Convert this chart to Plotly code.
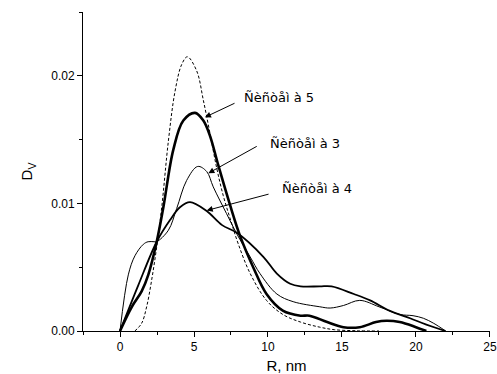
import plotly.graph_objects as go

# Volume size distributions D_V(R)
r_ref = [1.0, 1.46, 1.8, 2.14, 2.48, 2.82, 3.27, 3.72, 4.17, 4.55, 5.18, 5.63,
         6.08, 6.53, 6.98, 7.5, 8.0, 8.8, 9.9, 11.0, 12.2, 13.5, 14.5, 16.0, 17.5]
d_ref = [0.0, 0.0006, 0.0019, 0.0040, 0.0066, 0.0097, 0.0149, 0.0188, 0.0209, 0.0215,
         0.0204, 0.0181, 0.0155, 0.0128, 0.0106, 0.0086, 0.0068, 0.0045, 0.0024,
         0.0013, 0.0007, 0.0003, 0.0001, 0.00002, 0.0]

r_s5 = [0, 0.8, 1.46, 1.91, 2.48, 2.93, 3.6, 4.28, 5.07, 5.63, 6.08, 6.64, 7.43, 8.1,
        9.0, 9.9, 11.0, 12.2, 12.8, 14.0, 15.1, 16.2, 17.3, 18.0, 18.9, 20.0, 20.7]
d_s5 = [0, 0.0019, 0.0031, 0.0044, 0.0070, 0.0097, 0.0142, 0.0165, 0.0171, 0.0165,
        0.0153, 0.0130, 0.0099, 0.0075, 0.0050, 0.0029, 0.0016, 0.0012, 0.0012,
        0.0007, 0.0003, 0.0003, 0.0007, 0.0008, 0.0007, 0.0003, 0.0]

r_s4 = [0, 1.24, 2.48, 3.38, 4.05, 4.73, 5.86, 6.9, 7.9, 9.7, 10.6, 11.5, 12.2,
        13.5, 14.3, 15.8, 16.9, 18.2, 19.6, 20.7, 22.0]
d_s4 = [0, 0.0036, 0.0070, 0.0087, 0.0097, 0.0101, 0.0094, 0.0083, 0.0077, 0.0058,
        0.0045, 0.0037, 0.0035, 0.0035, 0.0035, 0.0029, 0.0024, 0.0016, 0.0010,
        0.0005, 0.0]

r_s3 = [0, 0.56, 1.01, 1.58, 1.9, 2.3, 2.48, 3.27, 3.83, 4.5, 5.25, 5.86, 6.3, 7.2,
        7.9, 8.8, 9.46, 10.6, 11.7, 13.5, 14.2, 15.1, 16.2, 17.5, 18.9, 19.8, 20.5,
        21.2, 22.0]
d_s3 = [0, 0.0044, 0.0059, 0.0068, 0.0070, 0.0070, 0.0070, 0.0079, 0.0096, 0.0118,
        0.0129, 0.0125, 0.0113, 0.0092, 0.0076, 0.0058, 0.0045, 0.0029, 0.0023,
        0.0019, 0.0018, 0.0020, 0.0024, 0.0019, 0.0013, 0.0012, 0.0010, 0.0006, 0.0]

labels = ["Ñèñòåì à 5", "Ñèñòåì à 3", "Ñèñòåì à 4"]

x_ticks = [0, 5, 10, 15, 20, 25]
y_ticks = [0.0, 0.01, 0.02]

fig = go.Figure()

series = [
    (r_ref, d_ref, dict(color="black", width=1, dash="3px,2px")),
    (r_s3, d_s3, dict(color="black", width=1)),
    (r_s4, d_s4, dict(color="black", width=1.8)),
    (r_s5, d_s5, dict(color="black", width=2.6)),
]
for xs, ys, ln in series:
    fig.add_trace(go.Scatter(x=xs, y=ys, mode="lines",
                             line=dict(shape="spline", smoothing=1, **ln),
                             showlegend=False, hoverinfo="skip"))

# Callout arrows (head on the curve, tail near the label) and label text
callouts = [
    # head x, head y, tail x, tail y, text x, text y, label
    (5.74, 0.01676, 7.84, 0.01791, 8.24, 0.0183, labels[0]),
    (5.97, 0.01237, 9.34, 0.01454, 9.98, 0.01468, labels[1]),
    (5.86, 0.00945, 10.14, 0.01076, 10.81, 0.01115, labels[2]),
]
for hx, hy, tx, ty, lx, ly, txt in callouts:
    fig.add_annotation(x=hx, y=hy, ax=tx, ay=ty, xref="x", yref="y",
                       axref="x", ayref="y", text="", showarrow=True,
                       arrowhead=2, arrowsize=1.2, arrowwidth=1,
                       arrowcolor="black", standoff=0)
    fig.add_annotation(x=lx, y=ly, xref="x", yref="y", text=txt,
                       showarrow=False, xanchor="left", yanchor="middle",
                       font=dict(family="DejaVu Sans", size=13, color="black"))

axis_font = dict(family="Liberation Sans, Arial", size=12, color="black")

fig.update_xaxes(
    range=[-2.5, 25.001], tickvals=x_ticks, ticktext=[str(v) for v in x_ticks],
    ticks="outside", ticklen=5, tickwidth=1, tickcolor="black",
    minor=dict(dtick=2.5, tick0=0, ticks="outside", ticklen=3, tickcolor="black",
               showgrid=False),
    showline=True, linecolor="black", linewidth=1, showgrid=False, zeroline=False,
    tickfont=axis_font, automargin=False,
    title=dict(text="R, nm", font=dict(family="Liberation Sans, Arial", size=15,
                                       color="black"), standoff=8),
)
fig.update_yaxes(
    range=[0, 0.02501], tickvals=y_ticks, ticktext=[f"{v:.2f}" for v in y_ticks],
    ticks="outside", ticklen=5, tickwidth=1, tickcolor="black",
    minor=dict(dtick=0.005, tick0=0, ticks="outside", ticklen=3, tickcolor="black",
               showgrid=False),
    showline=True, linecolor="black", linewidth=1, showgrid=False, zeroline=False,
    tickfont=axis_font, automargin=False,
    title=dict(text="D<sub>V</sub>", font=dict(family="Liberation Sans, Arial",
                                               size=15, color="black"), standoff=14),
)

fig.update_layout(
    width=497, height=374,
    margin=dict(l=83, r=7, t=12, b=43),
    paper_bgcolor="white", plot_bgcolor="white",
)

fig.write_html("out.html")
